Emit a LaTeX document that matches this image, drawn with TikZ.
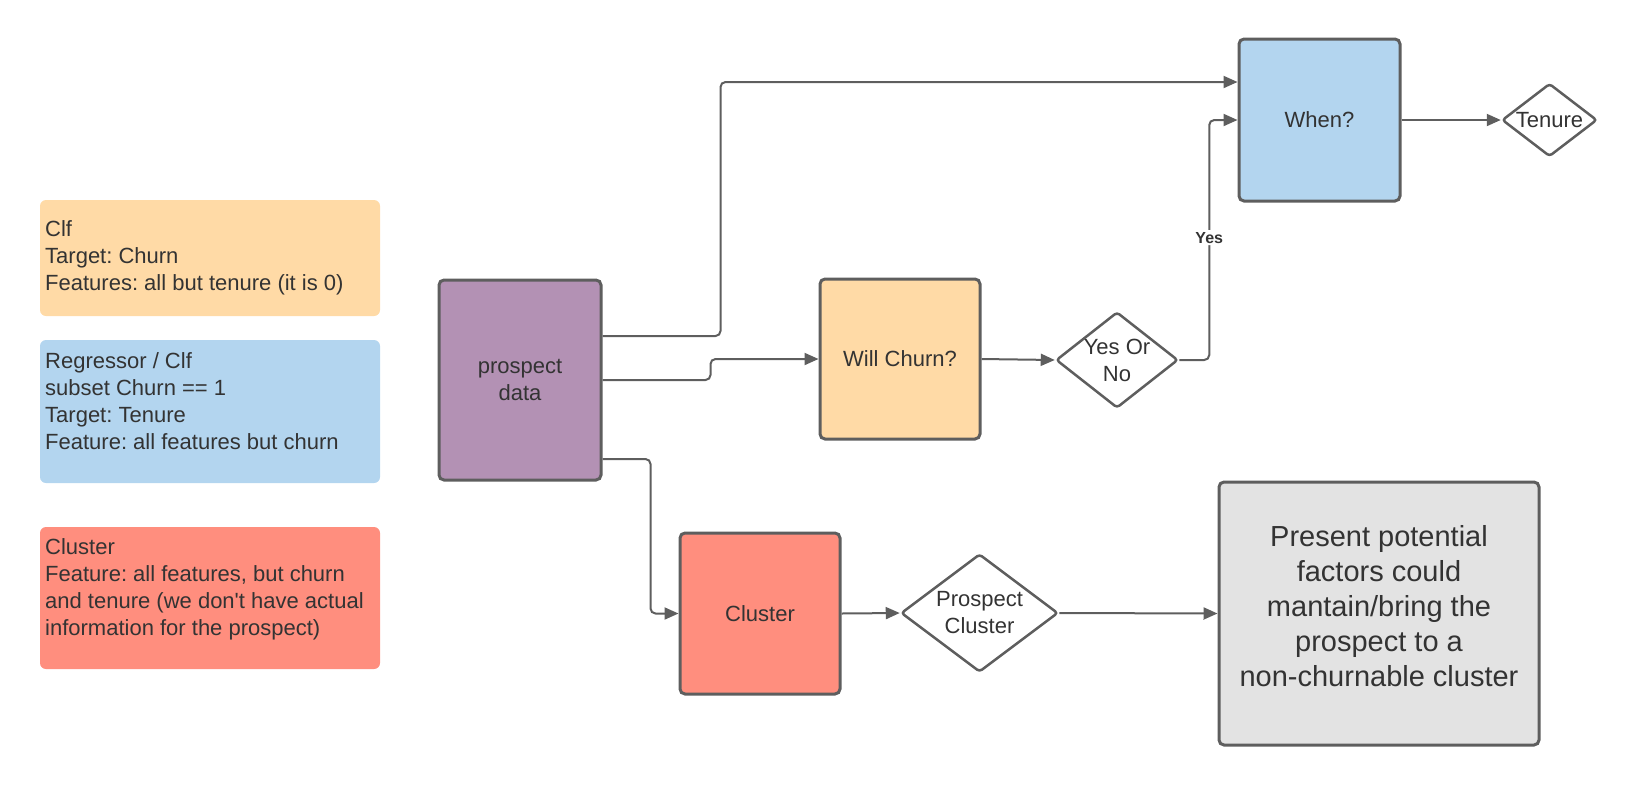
\documentclass[tikz,border=0pt]{standalone}
\usepackage{fontspec}
\setmainfont{Liberation Sans}
\usetikzlibrary{shapes.geometric,arrows.meta}
\frenchspacing
\definecolor{cOrange}{HTML}{FFDAA6}
\definecolor{cBlue}{HTML}{B3D5EF}
\definecolor{cPurple}{HTML}{B391B4}
\definecolor{cRed}{HTML}{FF8E7E}
\definecolor{cGray}{HTML}{E3E3E3}
\definecolor{cLine}{HTML}{5E5E5E}
\definecolor{cText}{HTML}{333333}
\begin{document}
\begin{tikzpicture}[x=1pt,y=-1pt,
  legbox/.style={rounded corners=6pt, inner sep=0, minimum width=340pt},
  legtext/.style={anchor=north west, inner sep=0, align=left, text=cText, font=\fontsize{22}{27}\selectfont},
  proc/.style={draw=cLine, line width=3pt, rounded corners=5pt, inner sep=0, text=cText, align=center, font=\fontsize{22}{27}\selectfont},
  dec/.style={diamond, draw=cLine, line width=2.5pt, rounded corners=3pt, fill=white, inner sep=0},
  dectext/.style={text=cText, align=center, inner sep=0, font=\fontsize{22}{27}\selectfont},
  conn/.style={draw=cLine, line width=2pt, rounded corners=5pt, -{Triangle[length=14pt,width=12pt]}},
  yeslbl/.style={fill=white, text=cText, inner sep=2pt, font=\fontsize{16}{18}\selectfont\bfseries}]
\useasboundingbox (0,0) rectangle (1640,785);
% legend
\node[legbox, fill=cOrange, minimum height=116pt] (leg1) at (210,258) {};
\node[legbox, fill=cBlue, minimum height=143pt] (leg2) at (210,411.5) {};
\node[legbox, fill=cRed, minimum height=142pt] (leg3) at (210,598) {};
\node[legtext] (leg1t) at (45,217) {\strut Clf\\Target: Churn\\Features: all but tenure (it is 0)};
\node[legtext] (leg2t) at (45,349) {\strut Regressor / Clf\\subset Churn == 1\\Target: Tenure\\Feature: all features but churn};
\node[legtext] (leg3t) at (45,535) {\strut Cluster\\Feature: all features, but churn\\and tenure (we don\textquotesingle t have actual\\information for the prospect)};
% process nodes
\node[proc, fill=cPurple, minimum width=162pt, minimum height=200pt] (prospect) at (520,380) {prospect\\data};
\node[proc, fill=cOrange, minimum width=160pt, minimum height=160pt] (willchurn) at (900,359) {Will Churn?};
\node[proc, fill=cBlue, minimum width=161pt, minimum height=162pt] (when) at (1319.5,120) {When?};
\node[proc, fill=cRed, minimum width=160pt, minimum height=161pt] (cluster) at (760,613.5) {Cluster};
\node[proc, fill=cGray, minimum width=320pt, minimum height=263pt,
  label={[dectext, yshift=7pt, font=\fontsize{29}{35}\selectfont]center:{Present potential\\factors could\\mantain/bring the\\prospect to a\\non-churnable cluster}}] (present) at (1379,613.5) {};
% decisions
\node[dec, minimum width=95pt, minimum height=73pt, label={[dectext]center:Tenure}] (tenure) at (1549.5,120) {};
\node[dec, minimum width=122pt, minimum height=96pt, label={[dectext]center:{Yes Or\\No}}] (yesno) at (1117,360) {};
\node[dec, minimum width=157pt, minimum height=118pt, label={[dectext]center:{Prospect\\Cluster}}] (pcluster) at (979.5,613) {};
% connectors
\draw[conn] ([yshift=44pt]prospect.east) -- ++(118,0) |- ([yshift=38pt]when.west);
\draw[conn] (prospect.east) -- ++(108,0) |- (willchurn.west);
\draw[conn] ([yshift=-79pt]prospect.east) -- ++(48,0) |- (cluster.west);
\draw[conn] (willchurn.east) -- (yesno.west);
\draw[conn] (yesno.east) -- ++(30,0) |- node[yeslbl, pos=0.255] (yes) {Yes} (when.west);
\draw[conn] (when.east) -- (tenure.west);
\draw[conn] (cluster.east) -- (pcluster.west);
\draw[conn] (pcluster.east) -- (present.west);
\end{tikzpicture}
\end{document}
